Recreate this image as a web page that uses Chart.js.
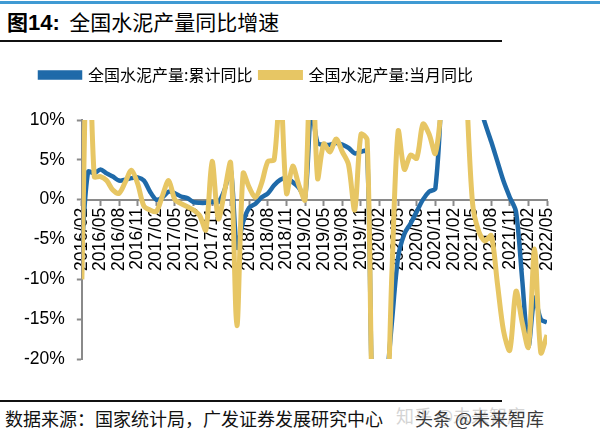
<!DOCTYPE html>
<html>
<head>
<meta charset="utf-8">
<script src="https://cdn.jsdelivr.net/npm/chart.js@4.4.0/dist/chart.umd.min.js"></script>
<style>
body { margin: 0; width: 600px; height: 443px; background: #fff; position: relative; overflow: hidden; font-family: "Noto Sans CJK SC", sans-serif; }
#topbar { position: absolute; left: 0; top: 1px; width: 600px; height: 3px; background: #3f9ad3; }
#title { position: absolute; left: 7px; top: 5px; font-size: 21px; line-height: 32px; color: #000; white-space: nowrap; }
#title b { font-weight: 700; }
#title .num { font-family: "Liberation Sans", Arial, sans-serif; font-weight: 700; font-size: 22px; }
.rule { position: absolute; left: 0; width: 502px; height: 2px; background: #111; }
#source { position: absolute; left: 5px; top: 404px; font-size: 18px; line-height: 28px; color: #111; white-space: nowrap; }
.wm { position: absolute; top: 404px; font-size: 18px; line-height: 28px; white-space: nowrap; }
#box { position: absolute; left: 0; top: 50px; width: 600px; height: 350px; }
</style>
</head>
<body>
<div id="topbar"></div>
<div id="title"><b>图</b><span class="num">14:</span>&nbsp; 全国水泥产量同比增速</div>
<div class="rule" style="top:40px"></div>
<div id="box"><canvas id="c"></canvas></div>
<div class="rule" style="top:400px"></div>
<div id="source">数据来源：国家统计局，广发证券发展研究中心</div>
<div class="wm" style="left:396px;top:401px;color:#d4d4d4">知乎 @未来智库</div>
<div class="wm" style="left:415px;color:#3a3a3a">头条 @未来智库</div>
<script>
// 月份 2016/02 - 2022/05
const mois = [
    "2016/02", "2016/03", "2016/04", "2016/05", "2016/06", "2016/07", "2016/08", "2016/09", "2016/10", "2016/11", "2016/12",
    "2017/01", "2017/02", "2017/03", "2017/04", "2017/05", "2017/06", "2017/07", "2017/08", "2017/09", "2017/10", "2017/11", "2017/12",
    "2018/01", "2018/02", "2018/03", "2018/04", "2018/05", "2018/06", "2018/07", "2018/08", "2018/09", "2018/10", "2018/11", "2018/12",
    "2019/01", "2019/02", "2019/03", "2019/04", "2019/05", "2019/06", "2019/07", "2019/08", "2019/09", "2019/10", "2019/11", "2019/12",
    "2020/01", "2020/02", "2020/03", "2020/04", "2020/05", "2020/06", "2020/07", "2020/08", "2020/09", "2020/10", "2020/11", "2020/12",
    "2021/01", "2021/02", "2021/03", "2021/04", "2021/05", "2021/06", "2021/07", "2021/08", "2021/09", "2021/10", "2021/11", "2021/12",
    "2022/01", "2022/02", "2022/03", "2022/04", "2022/05"
];

// 累计同比 (%)
const cumul = [
    -6, 3.5, 3.3, 3.8, 3.3, 2.9, 2.4, 2.5, 2.7, 2.8, 2.4,
    1.0, 0.0, 0.3, 1.0, 0.8, 0.4, 0.2, -0.3, -0.4, -0.4, -0.3, -0.3,
    1.2, 3.8, -6, -2.8, -1.0, -0.5, 0.3, 0.8, 1.8, 2.5, 2.7, 2.2,
    1.5, 0.3, 11.5, 7.1, 6.9, 6.9, 7.1, 6.9, 6.5, 5.8, 6.0, 6.1,
    -29.5, -29.5, -24, -15.3, -7.2, -4.3, -3.0, -1.5, 0.0, 1.0, 1.4, 15,
    55, 47, 30, 21, 16, 12.3, 9.6, 7.3, 4.8, 2.3, 0.3, -1.5,
    -10, -18.4, -12.3, -15.0, -15.4
];

// 当月同比 (%)
const mensuel = [
    -10, 25, 2.9, 2.9, 2.4, 1.2, 0.8, 2.2, 3.7, 2.0, -0.8,
    -1.3, -1.5, 0.5, 2.4, 0.0, -0.5, -0.9, -1.3, -2.0, -3.8, 4.8, -2.4,
    1.0, 4.6, -15.8, 3.3, 1.5, 0.3, 2.1, 4.8, 5.0, 14, 0.8, 4.2,
    1.8, 0.0, 22, 2.7, 7.0, 6.0, 7.6, 6.0, 4.4, -1.3, 8.2, 7.5,
    -30, -30, -30, -9, 8.6, 3.8, 5.6, 5.2, 9.5, 8.2, 5.8, 13,
    50, 60, 30, 14, -0.5, -4.0, -5.2, -4.5, -10.5, -16.5, -18.9, -11.5,
    -15.4, -18.5, -6.2, -19.2, -17
];

const bleu = "#1f6aa9";
const jaune = "#e7c664";
const gris = "#8a8a8a";
const police = "'Liberation Sans', Arial, sans-serif";

// marge sous la légende + décalage à gauche
const margeLegende = {
    id: "margeLegende",
    beforeInit(chart) {
        const fitOrig = chart.legend.fit;
        chart.legend.fit = function () {
            fitOrig.bind(chart.legend)();
            this.height += 27;
        };
    },
    afterLayout(chart) {
        chart.legend.left += 20;
    }
};

new Chart(document.getElementById("c"), {
    type: "line",
    data: {
        labels: mois,
        datasets: [{
            label: "全国水泥产量:累计同比",
            data: cumul,
            borderColor: bleu,
            backgroundColor: bleu,
            borderWidth: 4.5,
            pointRadius: 0,
            tension: 0.3,
            clip: 0,
            order: 2
        }, {
            label: "全国水泥产量:当月同比",
            data: mensuel,
            borderColor: jaune,
            backgroundColor: jaune,
            borderWidth: 5,
            pointRadius: 0,
            tension: 0.3,
            clip: 0,
            order: 1
        }]
    },
    options: {
        responsive: true,
        maintainAspectRatio: false,
        animation: false,
        layout: { padding: { top: 9, left: 12, right: 53, bottom: 41 } },
        scales: {
            x: {
                position: { y: 0 },
                grid: {
                    drawOnChartArea: false,
                    tickLength: 5,
                    tickWidth: 2,
                    color: function (ctx) {
                        return ctx.index % 3 === 0 ? gris : "rgba(0,0,0,0)";
                    }
                },
                border: { display: true, color: gris, width: 2 },
                ticks: {
                    autoSkip: false,
                    maxRotation: 90,
                    minRotation: 90,
                    padding: 3,
                    color: "#000",
                    font: { family: police, size: 17.5 },
                    callback: function (v, i) {
                        return i % 3 === 0 ? mois[i] : "";
                    }
                }
            },
            y: {
                min: -20,
                max: 10,
                grid: { drawOnChartArea: false, tickLength: 5, tickWidth: 2, color: gris },
                border: { display: true, color: gris, width: 2 },
                ticks: {
                    stepSize: 5,
                    padding: 12,
                    color: "#000",
                    font: { family: police, size: 17.5 },
                    callback: function (v) { return v + "%"; }
                }
            }
        },
        plugins: {
            legend: {
                align: "start",
                labels: {
                    boxWidth: 40,
                    boxHeight: 5,
                    padding: 8,
                    color: "#000",
                    font: { family: "'Noto Sans CJK SC', sans-serif", size: 16 },
                    sort: function (a, b) { return a.datasetIndex - b.datasetIndex; }
                }
            },
            tooltip: { enabled: false }
        }
    },
    plugins: [margeLegende]
});
</script>
</body>
</html>
